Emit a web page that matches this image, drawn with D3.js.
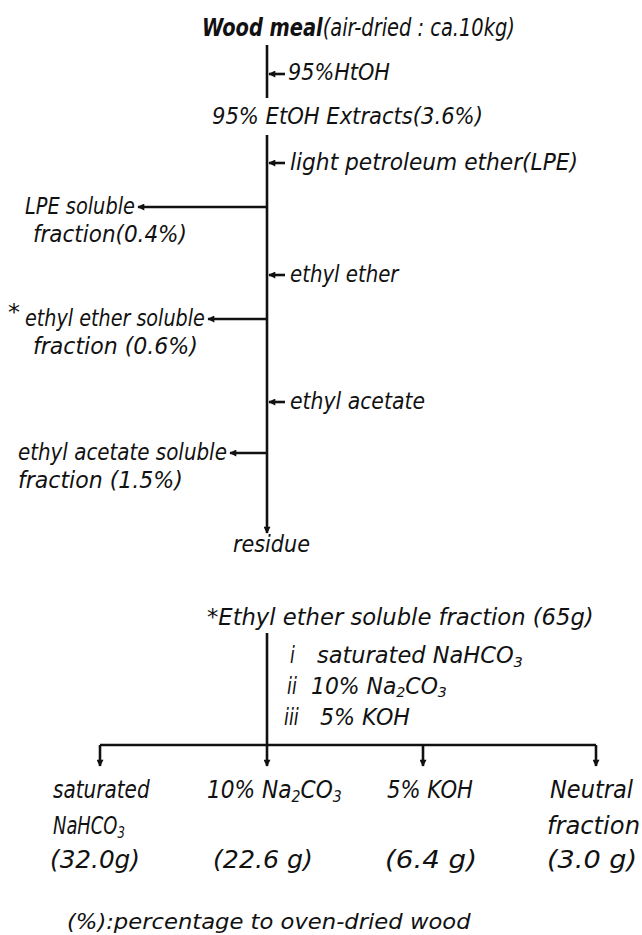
<!DOCTYPE html>
<html>
<head>
<meta charset="utf-8">
<script src="https://cdn.jsdelivr.net/npm/d3@7"></script>
<style>
  body { margin: 0; background: #fff; }
  svg text { font-family: "DejaVu Sans Condensed", "DejaVu Sans", sans-serif; font-style: italic; fill: #111; }
</style>
</head>
<body>
<svg id="scheme" width="642" height="935"></svg>
<script>
// --- scheme content ---
const startMaterial = ['Wood meal', '(air-dried : ca.10kg)']
const extractSolvent = '95%HtOH'
const extractName = '95% EtOH Extracts(3.6%)'
const partitionSolvents = ['light petroleum ether(LPE)', 'ethyl ether', 'ethyl acetate']
const partitionFractions = [
    ['LPE soluble', 'fraction(0.4%)'],
    ['ethyl ether soluble', 'fraction (0.6%)'],
    ['ethyl acetate soluble', 'fraction (1.5%)']
]
const residueName = 'residue'

const etherFraction = '*Ethyl ether soluble fraction (65g)'
const reagentNumerals = ['i', 'ii', 'iii']
const reagents = ['saturated NaHCO_3', '10% Na_2CO_3', '5% KOH']
const products = [['saturated', 'NaHCO_3'], ['10% Na_2CO_3'], ['5% KOH'], ['Neutral', 'fraction']]
const productYields = [32.0, 22.6, 6.4, 3.0]
const footnote = '(%):percentage to oven-dried wood'

// --- layout ---
const svg = d3.select('#scheme')
const width = +svg.attr('width')
const height = +svg.attr('height')
const STROKE = 2.6
const FONT = 23
const mainX = 267

svg.append('rect').attr('width', width).attr('height', height).attr('fill', '#fff')

svg.append('defs').append('marker')
    .attr('id', 'head')
    .attr('viewBox', '0 0 10 10')
    .attr('refX', 9).attr('refY', 5)
    .attr('markerWidth', 9).attr('markerHeight', 7)
    .attr('markerUnits', 'userSpaceOnUse')
    .attr('orient', 'auto')
    .append('path')
    .attr('d', 'M0,0L10,5L0,10z')
    .attr('fill', '#111')

// rows of the partition steps (solvent arrow y, fraction branch y)
const solventY = d3.scaleOrdinal().domain(partitionSolvents).range([163, 275, 402])
const fractionY = d3.scaleOrdinal().domain(partitionSolvents).range([207, 319, 453])
// left edge and fitted width of each fraction label block
const fractionX = d3.scaleOrdinal().domain(partitionSolvents).range([25, 25, 18])
const fractionW = d3.scaleOrdinal().domain(partitionSolvents).range([[110, 154], [180, 165], [209, 165]])
const solventW = d3.scaleOrdinal().domain(partitionSolvents).range([288, 110, 135])

// columns of the separated products
const productX = d3.scaleOrdinal().domain(d3.range(products.length)).range([100, 267, 423, 596])
const productLeft = d3.scaleOrdinal().domain(d3.range(products.length)).range([53, 207, 387, 550])
const productRowY = d3.scalePoint().domain([0, 1, 2]).range([790, 860])
const reagentY = d3.scalePoint().domain(reagentNumerals).range([655, 717])

const line = (x1, y1, x2, y2, head) => {
    const l = svg.append('line')
        .attr('x1', x1).attr('y1', y1).attr('x2', x2).attr('y2', y2)
        .attr('stroke', '#111').attr('stroke-width', STROKE)
    if (head) l.attr('marker-end', 'url(#head)')
    return l
}

// text with "_n" subscripts, fitted horizontally to a target width
function label(str, x, yc, fitWidth, opts = {}) {
    const size = opts.size || FONT
    const t = svg.append('text')
        .attr('x', x)
        .attr('y', yc + size * 0.35)
        .style('font-size', size + 'px')
    if (opts.weight) t.style('font-weight', opts.weight)
    str.split(/_(\d)/).forEach((part, i) => {
        if (part === '') return
        const ts = t.append('tspan').text(part)
        if (i % 2 === 1) {
            ts.style('font-size', (size * 0.65) + 'px').attr('baseline-shift', '-22%')
        }
    })
    if (fitWidth) {
        const w = t.node().getBBox().width
        const sx = fitWidth / w
        t.attr('transform', `translate(${x},0) scale(${sx},1) translate(${-x},0)`)
    }
    return t
}

// --- top: extraction ---
const title = svg.append('text')
    .attr('x', 202).attr('y', 28 + 24 * 0.35)
    .style('font-size', '24px')
title.append('tspan').style('font-weight', 'bold').text(startMaterial[0])
title.append('tspan').text(startMaterial[1])
const tw = title.node().getBBox().width
title.attr('transform', `translate(202,0) scale(${313 / tw},1) translate(-202,0)`)

line(mainX, 45, mainX, 98)
line(mainX + 18, 74, mainX + 2, 74, true)
label(extractSolvent, 288, 72, 102)
label(extractName, 212, 116, 271)

// main partition line
line(mainX, 135, mainX, 533, true)

partitionSolvents.forEach((s, i) => {
    const ys = solventY(s)
    line(mainX + 18, ys, mainX + 2, ys, true)
    label(s, 290, ys - 1, solventW(s))

    const yf = fractionY(s)
    const [w1, w2] = fractionW(s)
    const x0 = fractionX(s)
    label(partitionFractions[i][0], x0, yf - 1, w1)
    line(mainX, yf, x0 + w1 + 3, yf, true)
    label(partitionFractions[i][1], x0 + (i === 2 ? 0 : 8), yf + 27, w2)
})
// star marks the fraction analysed below
label('*', 8, 312, 12)

label(residueName, 233, 544, 77)

// --- bottom: acid/base separation ---
label(etherFraction, 207, 617, 387)
line(mainX, 633, mainX, 766, true)

reagentNumerals.forEach((n, i) => {
    const y = reagentY(n)
    label(n, 290 - i * 3, y, n.length * 5)
    label(reagents[i], [317, 311, 320][i], y, [206, 136, 90][i])
})

line(productX(0), 745, productX(products.length - 1), 745)
products.forEach((p, i) => {
    if (i !== 1) line(productX(i), 745, productX(i), 766, true)
    p.forEach((txt, r) => {
        label(txt, productLeft(i) - (r === 1 && i === 3 ? 3 : 0), productRowY(r) + (r === 1 ? 1 : 0),
            [[97, 72], [135], [86], [83, 93]][i][r], { size: 24 })
    })
    const yLabel = i === 0 ? `(${productYields[i].toFixed(1)}g)` : `(${productYields[i].toFixed(1)} g)`
    label(yLabel, [50, 213, 385, 547][i], productRowY(2), [90, 100, 92, 90][i], { size: 24 })
})

label(footnote, 67, 922, 405, { size: 21 })
</script>
</body>
</html>
